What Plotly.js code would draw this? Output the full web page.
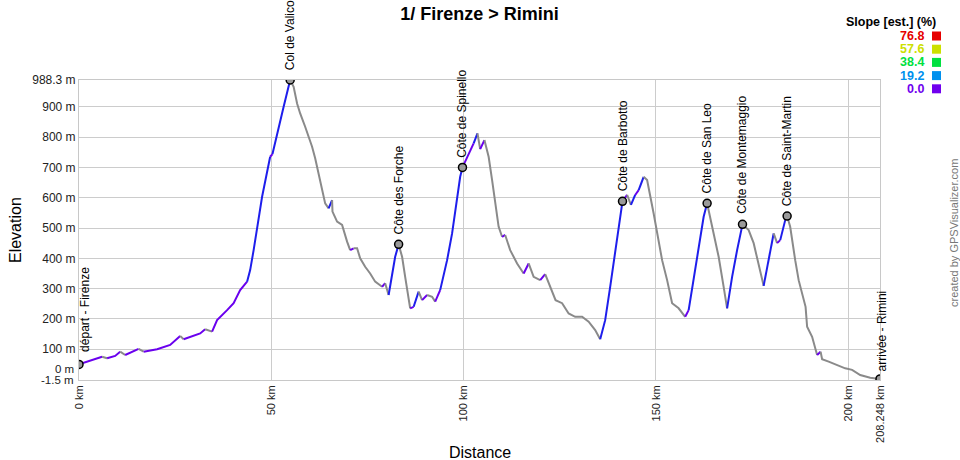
<!DOCTYPE html>
<html>
<head>
<meta charset="utf-8">
<script src="https://cdn.plot.ly/plotly-3.0.1.min.js"></script>
<style>html,body{margin:0;padding:0;background:#fff;}#chart{width:960px;height:460px;}</style>
</head>
<body>
<div id="chart"></div>
<script>
// ---------- data ----------
const distKm = [0, 6.0, 7.3, 9.4, 10.7, 12.0, 15.5, 16.8, 20.3, 23.7,
  26.3, 27.2, 28.5, 31.5, 32.8, 34.6, 35.9, 38.5, 40.2, 41.9,
  43.7, 44.5, 45.4, 47.6, 49.7, 50.3, 51.5, 53.2, 54.9, 55.8,
  56.7, 57.5, 58.8, 60.6, 61.4, 62.3, 63.2, 64.0, 64.9, 65.8,
  65.9, 67.1, 68.4, 69.7, 70.5, 71.4, 72.3, 73.1, 74.4, 75.7,
  77.0, 78.8, 79.6, 80.5, 81.4, 82.2, 83.1, 84.0, 84.8, 86.1,
  87.0, 88.3, 89.2, 90.5, 91.8, 92.6, 93.9, 95.7, 97.0, 98.3,
  99.1, 99.7, 100.9, 102.6, 103.6, 104.3, 105.4, 106.5, 107.4, 108.2,
  109.1, 110.0, 110.8, 112.1, 113.9, 115.6, 116.9, 118.2, 119.9, 121.2,
  122.5, 123.9, 125.6, 127.3, 129.0, 130.8, 132.5, 134.2, 135.5, 136.8,
  138.1, 139.4, 140.3, 140.8, 141.3, 142.5, 143.5, 144.6, 145.5, 146.8,
  147.7, 149.4, 151.6, 152.9, 154.2, 155.9, 157.6, 158.5, 159.8, 161.1,
  162.4, 163.3, 164.6, 166.3, 167.6, 168.5, 169.8, 171.1, 172.5, 174.1,
  175.4, 176.7, 178.0, 179.3, 180.6, 181.5, 182.3, 183.6, 184.1, 184.9,
  186.2, 187.1, 188.9, 189.3, 190.6, 191.9, 192.8, 193.2, 194.9, 197.1,
  199.2, 201.0, 203.1, 205.7, 208.248];
const elevM = [50, 75, 70, 78, 92, 81, 101, 92, 100, 114,
  144, 133, 138, 152, 166, 158, 196, 229, 252, 295,
  323, 361, 427, 603, 735, 744, 812, 900, 988.3, 966,
  911, 878, 834, 768, 730, 680, 625, 581, 565, 592,
  554, 521, 510, 455, 427, 433, 433, 400, 372, 350,
  323, 306, 318, 279, 350, 405, 446, 405, 339, 235,
  240, 290, 262, 279, 273, 257, 295, 394, 482, 592,
  669, 700, 735, 779, 812, 760, 790, 735, 658, 592,
  504, 471, 477, 427, 383, 350, 383, 339, 328, 348,
  306, 262, 252, 218, 207, 207, 191, 163, 133, 196,
  306, 427, 504, 543, 588, 609, 576, 609, 625, 669,
  658, 548, 394, 328, 252, 235, 207, 229, 328, 427,
  537, 581.5, 504, 405, 306, 235, 339, 427, 512, 493,
  450, 383, 309, 394, 482, 450, 460, 526, 539.5, 504,
  394, 328, 240, 174, 141, 81, 92, 67, 59, 48,
  37, 32, 15, 6, 2];

const wpNames = ["départ - Firenze", "Col de Valico", "Côte des Forche", "Côte de Spinello",
  "Côte de Barbotto", "Côte de San Leo", "Côte de Montemaggio", "Côte de Saint-Martin", "arrivée - Rimini"];
const wpDist = [0, 54.9, 83.1, 99.7, 141.3, 163.3, 172.5, 184.1, 208.248];
const wpElev = [50, 988.3, 446, 700, 588, 581.5, 512, 539.5, 2];

const xTickVals = [0, 50, 100, 150, 200, 208.248];
const xTickText = ["0 km", "50 km", "100 km", "150 km", "200 km", "208.248 km"];
const yTickVals = [100, 200, 300, 400, 500, 600, 700, 800, 900, 988.3];
const yTickText = ["100 m", "200 m", "300 m", "400 m", "500 m", "600 m", "700 m", "800 m", "900 m", "988.3 m"];
const yMin = -1.5, yMax = 988.3, xMax = 208.248;

const slopeLegendVals = ["76.8", "57.6", "38.4", "19.2", "0.0"];
const slopeLegendColors = ["#e60000", "#cce000", "#00e040", "#0090ee", "#7000ee"];

// ---------- layout helpers ----------
const FONT = "Liberation Sans, Arial, sans-serif";
const L = 79, T = 80, W = 801, H = 300;
const fx = px => (px - L) / W;
const fy = py => (T + H - py) / H;

function segColor(i) {
  const dz = elevM[i + 1] - elevM[i];
  const dx = (distKm[i + 1] - distKm[i]) * 1000;
  const s = dx > 0 ? dz / dx * 100 : 0;
  if (s <= 0) return "#8a8a8a";
  if (s < 3) return "#6a00ee";
  return "#1e1eec";
}

const traces = [];
let start = 0, cur = segColor(0);
for (let i = 1; i <= distKm.length - 1; i++) {
  const c = i < distKm.length - 1 ? segColor(i) : null;
  if (c !== cur) {
    traces.push({
      x: distKm.slice(start, i + 1), y: elevM.slice(start, i + 1),
      mode: "lines", type: "scatter", hoverinfo: "skip",
      line: {color: cur, width: 2}
    });
    start = i; cur = c;
  }
}
traces.push({
  x: wpDist, y: wpElev, mode: "markers", type: "scatter", hoverinfo: "skip",
  marker: {size: 8, color: "#9a9a9a", line: {color: "#000", width: 1.5}}
});

const annotations = [];
wpNames.forEach((n, i) => {
  let xs = 0, ys = 8;
  if (i === 0) { xs = 6; ys = 10; }
  if (i === wpNames.length - 1) { xs = 2; ys = 5; }
  annotations.push({
    x: wpDist[i], y: wpElev[i], xref: "x", yref: "y", text: n, showarrow: false,
    textangle: -90, xanchor: "center", yanchor: "bottom", xshift: xs, yshift: ys,
    font: {family: FONT, size: 12, color: "#000"}
  });
});
// y labels near zero (offset to avoid overlap, as in the original)
annotations.push({x: 0, y: 0, xref: "paper", yref: "y", text: "0 m", showarrow: false,
  xanchor: "right", yanchor: "middle", xshift: -3, yshift: 11, font: {family: FONT, size: 11.5, color: "#222"}});
annotations.push({x: 0, y: yMin, xref: "paper", yref: "y", text: "-1.5 m", showarrow: false,
  xanchor: "right", yanchor: "middle", xshift: -3, yshift: 0, font: {family: FONT, size: 11.5, color: "#222"}});
// axis titles
annotations.push({x: fx(480), y: fy(452), xref: "paper", yref: "paper", text: "Distance", showarrow: false,
  xanchor: "center", yanchor: "middle", font: {family: FONT, size: 16, color: "#000"}});
annotations.push({x: fx(15), y: fy(230), xref: "paper", yref: "paper", text: "Elevation", showarrow: false,
  textangle: -90, xanchor: "center", yanchor: "middle", font: {family: FONT, size: 16, color: "#000"}});
// watermark
annotations.push({x: fx(954), y: fy(233), xref: "paper", yref: "paper", text: "created by GPSVisualizer.com", showarrow: false,
  textangle: -90, xanchor: "center", yanchor: "middle", font: {family: FONT, size: 11, color: "#777"}});
// slope legend
annotations.push({x: fx(938), y: fy(22), xref: "paper", yref: "paper", text: "<b>Slope [est.] (%)</b>", showarrow: false,
  xanchor: "right", yanchor: "middle", font: {family: FONT, size: 12.5, color: "#000"}});
const shapes = [];
slopeLegendVals.forEach((v, i) => {
  const cy = 36 + i * 13.2;
  annotations.push({x: fx(926), y: fy(cy), xref: "paper", yref: "paper", text: "<b>" + v + "</b>", showarrow: false,
    xanchor: "right", yanchor: "middle", font: {family: FONT, size: 12.5, color: slopeLegendColors[i]}});
  shapes.push({type: "rect", xref: "paper", yref: "paper", x0: fx(932), x1: fx(941), y0: fy(cy + 4.5), y1: fy(cy - 4.5),
    fillcolor: slopeLegendColors[i], line: {width: 0}});
});

const layout = {
  width: 960, height: 460,
  margin: {l: L, r: 960 - L - W, t: T, b: 460 - T - H, pad: 0},
  paper_bgcolor: "#fff", plot_bgcolor: "#fff",
  showlegend: false,
  title: {text: "<b>1/ Firenze > Rimini</b>", x: 0.5, xref: "paper", xanchor: "center",
    y: 1 - 14 / 460, yanchor: "middle", font: {family: FONT, size: 18, color: "#000"}},
  xaxis: {range: [0, xMax], tickvals: xTickVals, ticktext: xTickText, tickangle: -90,
    showgrid: true, gridcolor: "#cccccc", gridwidth: 1, zeroline: false,
    showline: true, linecolor: "#c8c8c8", linewidth: 1, mirror: true, ticks: "",
    tickfont: {family: FONT, size: 11, color: "#222"}, fixedrange: true},
  yaxis: {range: [yMin, yMax], tickvals: yTickVals, ticktext: yTickText,
    showgrid: true, gridcolor: "#cccccc", gridwidth: 1, zeroline: false,
    showline: true, linecolor: "#c8c8c8", linewidth: 1, mirror: true, ticks: "",
    tickfont: {family: FONT, size: 12, color: "#222"}, fixedrange: true},
  annotations: annotations,
  shapes: shapes
};

Plotly.newPlot("chart", traces, layout, {staticPlot: true, displayModeBar: false});
</script>
</body>
</html>
